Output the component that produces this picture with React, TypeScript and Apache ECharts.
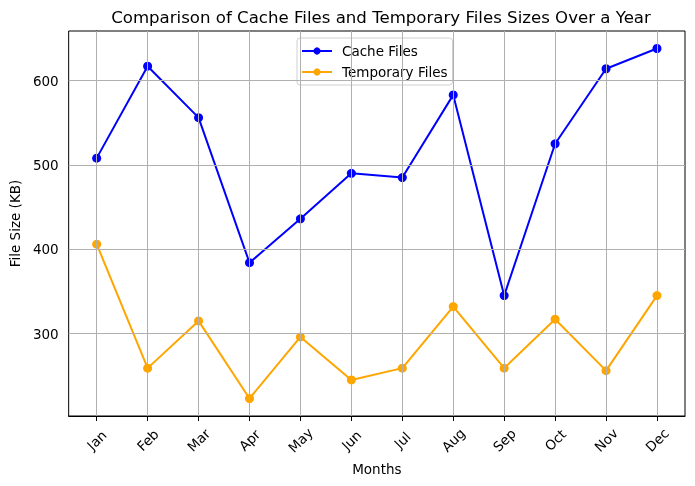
import React, { useEffect, useRef } from "react";
import * as echarts from "echarts";

const months = ["Jan", "Feb", "Mar", "Apr", "May", "Jun", "Jul", "Aug", "Sep", "Oct", "Nov", "Dec"];
const cacheFiles = [508, 617, 556, 384, 436, 490, 485, 583, 345, 525, 614, 638];
const tempFiles = [406, 259, 315, 223, 296, 245, 259, 332, 259, 317, 256, 345];
const yTicks = [300, 400, 500, 600];

const FONT = "DejaVu Sans";
const FS = 13.5;

export default function App() {
  const ref = useRef<HTMLDivElement>(null);
  useEffect(() => {
    if (!ref.current) return;
    const chart = echarts.init(ref.current, null, { renderer: "svg" });
    const xIdx = months.map((_, i) => i);
    const allVals = [...cacheFiles, ...tempFiles];
    const lo = Math.min(...allVals);
    const hi = Math.max(...allVals);
    const pad = (hi - lo) * 0.05;
    chart.setOption({
      animation: false,
      textStyle: { fontFamily: FONT },
      title: {
        text: "Comparison of Cache Files and Temporary Files Sizes Over a Year",
        left: 376,
        textAlign: "center",
        top: 4,
        textStyle: { fontFamily: FONT, fontSize: 16.6, fontWeight: "normal", color: "#000" },
      },
      grid: {
        left: 67,
        right: 10,
        top: 31,
        bottom: 70,
        show: true,
        borderColor: "#000",
        borderWidth: 1,
        backgroundColor: "transparent",
      },
      legend: {
        orient: "vertical",
        left: 297,
        top: 38,
        padding: [6, 5, 6, 4],
        itemGap: 7,
        itemWidth: 30,
        itemHeight: 9,
        backgroundColor: "rgba(255,255,255,0.8)",
        borderColor: "#d0d0d0",
        borderWidth: 1,
        borderRadius: 3,
        textStyle: { fontFamily: FONT, fontSize: FS, color: "#000", padding: [0, 0, 0, 5] },
        data: ["Cache Files", "Temporary Files"],
      },
      xAxis: {
        type: "value",
        min: -0.55,
        max: 11.55,
        name: "Months",
        nameLocation: "middle",
        nameGap: 46,
        nameTextStyle: { fontFamily: FONT, fontSize: FS, color: "#000" },
        axisLine: { show: true, onZero: false, lineStyle: { color: "#000", width: 1 } },
        axisTick: { show: true, customValues: xIdx, length: 5, lineStyle: { color: "#000" } },
        axisLabel: {
          customValues: xIdx,
          formatter: (v: number) => months[Math.round(v)] ?? "",
          rotate: 45,
          align: "center",
          verticalAlign: "middle",
          margin: 24,
          fontFamily: FONT,
          fontSize: FS,
          color: "#000",
        },
        splitLine: { show: false },
      },
      yAxis: {
        type: "value",
        min: lo - pad,
        max: hi + pad,
        name: "File Size (KB)",
        nameLocation: "middle",
        nameGap: 43,
        nameTextStyle: { fontFamily: FONT, fontSize: FS, color: "#000" },
        axisLine: { show: true, lineStyle: { color: "#000", width: 1 } },
        axisTick: { show: true, customValues: yTicks, length: 5, lineStyle: { color: "#000" } },
        axisLabel: {
          customValues: yTicks,
          margin: 10,
          fontFamily: FONT,
          fontSize: FS,
          color: "#000",
        },
        splitLine: { show: false },
      },
      series: [
        {
          name: "grid",
          type: "line",
          data: [],
          z: 1,
          silent: true,
          markLine: {
            silent: true,
            symbol: "none",
            label: { show: false },
            lineStyle: { color: "#b0b0b0", width: 1, type: "solid" },
            data: [
              ...yTicks.map((v) => ({ yAxis: v })),
              ...xIdx.map((v) => ({ xAxis: v })),
            ],
          },
        },
        {
          name: "Cache Files",
          type: "line",
          z: 3,
          data: cacheFiles.map((v, i) => [i, v]),
          symbol: "circle",
          symbolSize: 9,
          itemStyle: { color: "#0000ff" },
          lineStyle: { color: "#0000ff", width: 2 },
        },
        {
          name: "Temporary Files",
          type: "line",
          z: 3,
          data: tempFiles.map((v, i) => [i, v]),
          symbol: "circle",
          symbolSize: 9,
          itemStyle: { color: "#ffa500" },
          lineStyle: { color: "#ffa500", width: 2 },
        },
      ],
    });
    return () => chart.dispose();
  }, []);
  return <div ref={ref} style={{ width: 695, height: 486, position: "fixed", left: 0, top: 0 }} />;
}
